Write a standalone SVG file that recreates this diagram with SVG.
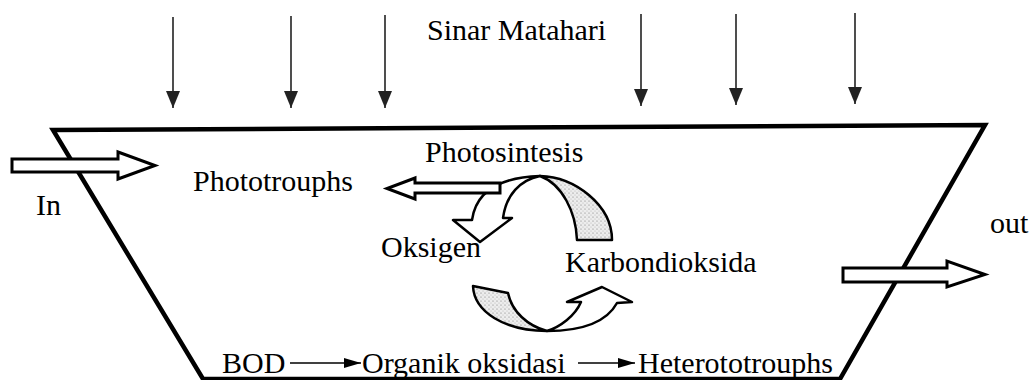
<svg xmlns="http://www.w3.org/2000/svg" width="1032" height="380" viewBox="0 0 1032 380">
<style>
  text { font-family: "Liberation Serif", "Times New Roman", serif; font-size: 30px; fill: #000; }
  .ray { stroke: #222; stroke-width: 1.6; fill: none; }
  .hollow { fill: #fff; stroke: #000; stroke-width: 3; stroke-linejoin: miter; }
  .rib { fill: #fff; stroke: #000; stroke-width: 2.5; stroke-linejoin: round; }
  .dot { fill: url(#dots); stroke: #000; stroke-width: 2.5; stroke-linejoin: round; }
  .flow { stroke: #000; stroke-width: 1.6; fill: none; }
</style>
<defs>
  <marker id="ah" viewBox="0 0 17 14" refX="17" refY="7" markerWidth="17" markerHeight="14" markerUnits="userSpaceOnUse" orient="auto">
    <path d="M0,0 L17,7 L0,14 Z" fill="#222"/>
  </marker>
  <marker id="ahs" viewBox="0 0 17 10" refX="17" refY="5" markerWidth="17" markerHeight="10" markerUnits="userSpaceOnUse" orient="auto">
    <path d="M0,0 L17,5 L0,10 Z" fill="#000"/>
  </marker>
  <pattern id="dots" width="4" height="4" patternUnits="userSpaceOnUse">
    <rect width="4" height="4" fill="#ededed"/>
    <circle cx="1" cy="1" r="0.6" fill="#777"/>
    <circle cx="3" cy="3" r="0.5" fill="#aaa"/>
  </pattern>
</defs>

<g id="pond">
  <polygon points="53,130 985,125 840,379 203,379" fill="none" stroke="#000" stroke-width="4.5" stroke-linejoin="miter"/>
</g>

<g id="sunlight">
  <text x="427" y="40">Sinar Matahari</text>
</g>

<g id="connectors">
  <line class="ray" x1="173" y1="17" x2="173" y2="108" marker-end="url(#ah)"/>
  <line class="ray" x1="291" y1="16" x2="291" y2="108" marker-end="url(#ah)"/>
  <line class="ray" x1="385" y1="15" x2="385" y2="108" marker-end="url(#ah)"/>
  <line class="ray" x1="641" y1="14" x2="641" y2="106" marker-end="url(#ah)"/>
  <line class="ray" x1="736" y1="14" x2="736" y2="105" marker-end="url(#ah)"/>
  <line class="ray" x1="855" y1="13" x2="855" y2="104" marker-end="url(#ah)"/>
  <line class="flow" x1="290" y1="363" x2="361" y2="363" marker-end="url(#ahs)"/>
  <line class="flow" x1="578" y1="363" x2="635" y2="363" marker-end="url(#ahs)"/>
</g>

<g id="inflow">
  <polygon class="hollow" points="12,159 118,159 118,152 155,165.5 118,179 118,172 12,172"/>
  <text x="36" y="215">In</text>
</g>

<g id="outflow">
  <polygon class="hollow" points="843,268 947,268 947,261 985,274.5 947,287 947,282 843,282"/>
  <text x="990" y="233">out</text>
</g>

<g id="photosynthesis">
  <path class="dot" d="M540,176 C575,177 612,205 612,240 L577,240 C576,212 562,184 540,176 Z"/>
  <path class="rib" d="M540,176 C520,180 506,195 503,218 L512,218 L480,242 L453,220 L472,220 Q478,178 540,176 Z"/>
  <polygon class="hollow" stroke-width="2.5" points="500,183 415,183 415,178 387,188.5 415,199 415,193 500,193"/>
  <text x="425" y="162">Photosintesis</text>
</g>

<g id="phototrouphs">
  <text x="193" y="191">Phototrouphs</text>
</g>

<g id="oksigen">
  <text x="381" y="257">Oksigen</text>
</g>

<g id="karbondioksida">
  <text x="565" y="272">Karbondioksida</text>
</g>

<g id="respiration">
  <path class="dot" d="M473,286 L508,293 C512,312 528,326 547,331 C505,331 474,312 473,286 Z"/>
  <path class="rib" d="M547,331 C575,331 605,325 617,303 L632,302 L602,287 L567,302 L581,302 C575,316 560,327 547,331 Z"/>
</g>

<g id="bod">
  <text x="222" y="373">BOD</text>
</g>
<g id="organik">
  <text x="362" y="373">Organik oksidasi</text>
</g>
<g id="heterotrophs">
  <text x="638" y="373">Heterototrouphs</text>
</g>
</svg>
